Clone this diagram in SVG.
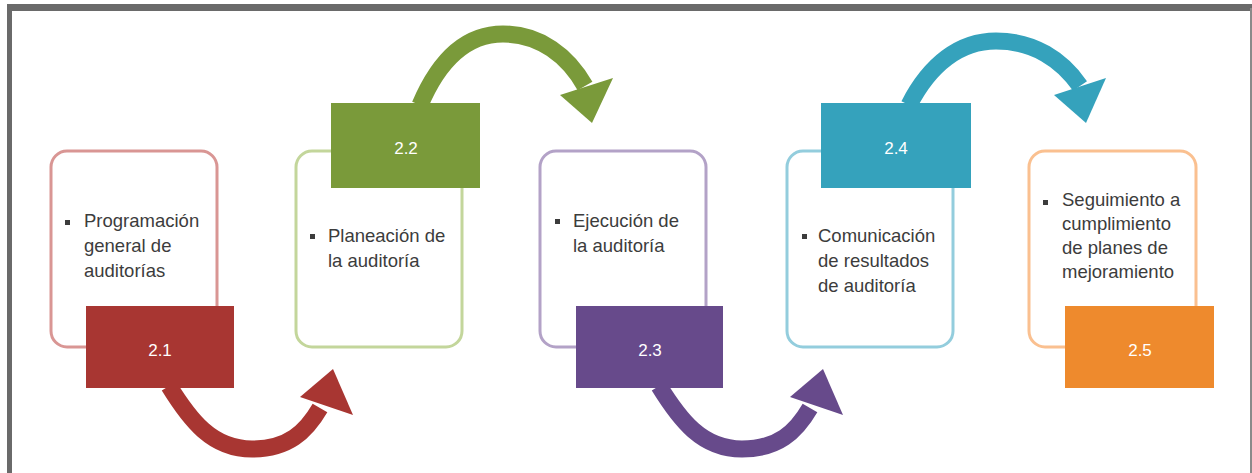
<svg xmlns="http://www.w3.org/2000/svg" width="1252" height="473" viewBox="0 0 1252 473">
<style>
.card{fill:#ffffff;stroke-width:3}
.txt{font-family:"Liberation Sans",Arial,sans-serif;font-size:18.5px;fill:#3c3c3c}
.num{font-family:"Liberation Sans",Arial,sans-serif;font-size:17px;fill:#ffffff;text-anchor:middle}
.shaft{fill:none;stroke-width:17}
.bul{fill:#3c3c3c}
</style>
<rect x="0" y="0" width="1252" height="473" fill="#ffffff"/>
<g id="frame">
<rect x="7" y="4" width="1245" height="7" fill="#6a6a6a"/>
<rect x="7" y="4" width="5" height="469" fill="#6a6a6a"/>
<rect x="1250" y="8" width="2" height="465" fill="#8a8a8a"/>
</g>
<g id="connectors">
<g id="arrow-1-2">
<path class="shaft" stroke="#a83632" d="M169,386 C190,420 212,449 252,449 C288,449 306,432 320,408"/>
<polygon fill="#a83632" points="300,397 333,369 353,415"/>
</g>
<g id="arrow-2-3">
<path class="shaft" stroke="#7a9a3a" d="M420,105 C440,58 468,34 503,34 C540,34 568,56 585,86"/>
<polygon fill="#7a9a3a" points="560,95 592,123 613,78"/>
</g>
<g id="arrow-3-4">
<path class="shaft" stroke="#674a8b" d="M659,386 C680,420 702,449 742,449 C778,449 796,432 810,408"/>
<polygon fill="#674a8b" points="790,397 823,369 843,415"/>
</g>
<g id="arrow-4-5">
<path class="shaft" stroke="#35a2bc" d="M909,105 C930,64 960,41 996,41 C1034,41 1062,60 1080,86"/>
<polygon fill="#35a2bc" points="1054,95 1086,123 1106,78"/>
</g>
</g>
<g id="node-2-1">
<rect class="card" stroke="#d99694" x="51" y="151" width="166" height="196" rx="16"/>
<rect x="86" y="306" width="148" height="82" fill="#a83632"/>
<text class="num" x="160" y="356">2.1</text>
<rect class="bul" x="65" y="220" width="5" height="5"/>
<text class="txt" x="84" y="227">Programación</text>
<text class="txt" x="84" y="252">general de</text>
<text class="txt" x="84" y="277">auditorías</text>
</g>
<g id="node-2-2">
<rect class="card" stroke="#c3d69b" x="296" y="151" width="166" height="196" rx="16"/>
<rect x="331" y="103" width="149" height="85" fill="#7a9a3a"/>
<text class="num" x="406" y="154">2.2</text>
<rect class="bul" x="310" y="234" width="5" height="5"/>
<text class="txt" x="328" y="242">Planeación de</text>
<text class="txt" x="328" y="267">la auditoría</text>
</g>
<g id="node-2-3">
<rect class="card" stroke="#b3a2c7" x="540" y="151" width="166" height="196" rx="16"/>
<rect x="576" y="306" width="147" height="82" fill="#674a8b"/>
<text class="num" x="650" y="356">2.3</text>
<rect class="bul" x="555" y="219" width="5" height="5"/>
<text class="txt" x="573" y="227">Ejecución de</text>
<text class="txt" x="573" y="252">la auditoría</text>
</g>
<g id="node-2-4">
<rect class="card" stroke="#93cddd" x="787" y="151" width="166" height="196" rx="16"/>
<rect x="821" y="103" width="150" height="85" fill="#35a2bc"/>
<text class="num" x="896" y="154">2.4</text>
<rect class="bul" x="802" y="234" width="5" height="5"/>
<text class="txt" x="818" y="242">Comunicación</text>
<text class="txt" x="818" y="267">de resultados</text>
<text class="txt" x="818" y="292">de auditoría</text>
</g>
<g id="node-2-5">
<rect class="card" stroke="#fac090" x="1029" y="151" width="167" height="196" rx="16"/>
<rect x="1065" y="306" width="149" height="82" fill="#ee8a2d"/>
<text class="num" x="1140" y="356">2.5</text>
<rect class="bul" x="1043" y="200" width="5" height="5"/>
<text class="txt" x="1062" y="206">Seguimiento a</text>
<text class="txt" x="1062" y="230">cumplimiento</text>
<text class="txt" x="1062" y="254">de planes de</text>
<text class="txt" x="1062" y="278">mejoramiento</text>
</g>
</svg>
